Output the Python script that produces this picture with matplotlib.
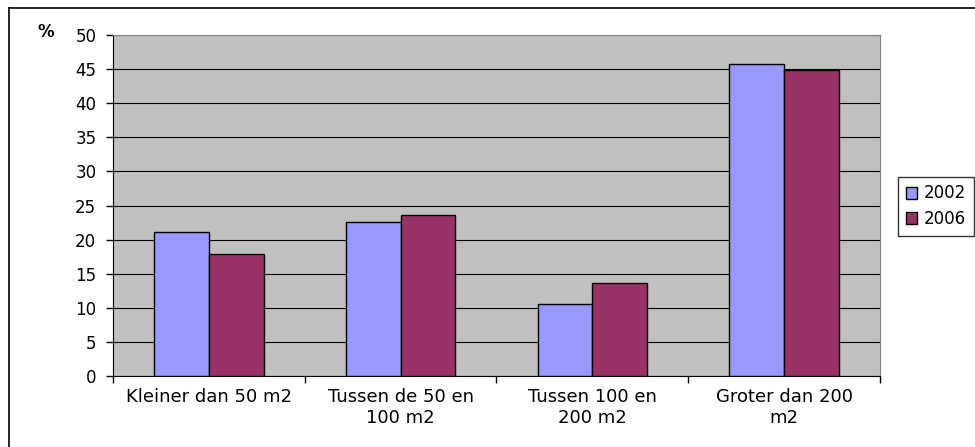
import matplotlib.pyplot as plt
import numpy as np

plt.rcParams['font.family'] = ['DejaVu Sans']

categories = ["Kleiner dan 50 m2", "Tussen de 50 en\n100 m2", "Tussen 100 en\n200 m2", "Groter dan 200\nm2"]
years = ["2002", "2006"]
vals_2002 = [21.1, 22.6, 10.5, 45.8]
vals_2006 = [17.9, 23.6, 13.7, 44.8]
yticks = [0, 5, 10, 15, 20, 25, 30, 35, 40, 45, 50]

fig = plt.figure(figsize=(9.75, 4.47), dpi=100)
ax = fig.add_axes([113/975, 71/447, 767/975, 341/447])
ax.set_facecolor('#C0C0C0')

x = np.arange(len(categories))
w = 1/3.5
ax.bar(x - w/2, vals_2002, w, color='#9999FF', edgecolor='black', linewidth=1, label=years[0], zorder=3)
ax.bar(x + w/2, vals_2006, w, color='#993366', edgecolor='black', linewidth=1, label=years[1], zorder=3)

ax.set_xlim(-0.5, 3.5)
ax.set_ylim(0, 50)
ax.set_yticks(yticks)
ax.yaxis.grid(True, color='black', linewidth=0.8, zorder=1)
ax.tick_params(axis='y', labelsize=12, length=5, width=1, pad=7, colors='black')

# category labels between boundary ticks
ax.set_xticks(np.arange(-0.5, 4, 1))
ax.set_xticklabels([])
ax.set_xticks(x, minor=True)
ax.set_xticklabels(categories, minor=True, fontsize=13, linespacing=1.15)
ax.tick_params(axis='x', which='major', length=5, width=1)
ax.tick_params(axis='x', which='minor', length=0, pad=9)

for s in ['top', 'right']:
    ax.spines[s].set_color('#808080')
for s in ['left', 'bottom']:
    ax.spines[s].set_color('black')

fig.text(37/975, 1 - 32/447, '%', fontsize=12, fontweight='bold', va='center', ha='left')

fig.legend(loc='upper left', bbox_to_anchor=(898/975, 1 - 177/447), frameon=True,
           fancybox=False, edgecolor='black', fontsize=12, handlelength=0.7,
           handleheight=0.7, handletextpad=0.4, labelspacing=0.45, borderpad=0.45,
           borderaxespad=0)

# outer chart border (partly cut off)
fig.add_artist(plt.Line2D([9/975, 1], [1 - 8/447, 1 - 8/447], color='black', linewidth=1.2, transform=fig.transFigure))
fig.add_artist(plt.Line2D([9/975, 9/975], [0, 1 - 8/447], color='black', linewidth=1.2, transform=fig.transFigure))

plt.savefig("out.png", dpi=100)
